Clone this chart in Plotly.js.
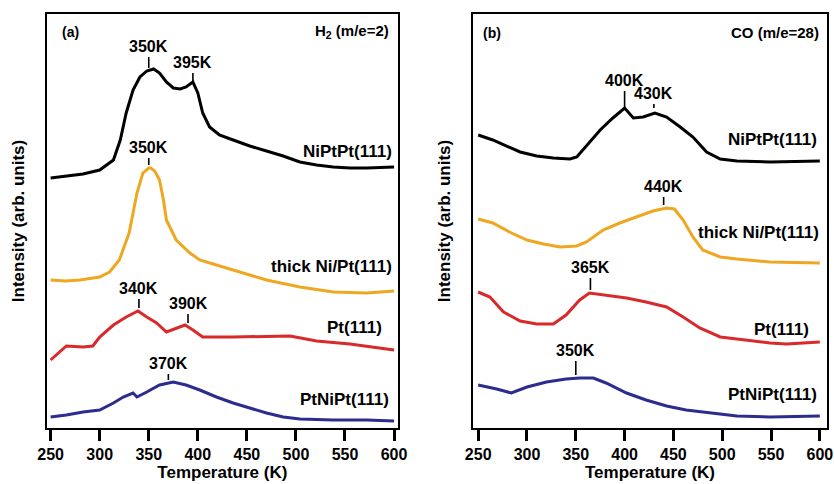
<!DOCTYPE html>
<html>
<head>
<meta charset="utf-8">
<script src="https://cdn.plot.ly/plotly-3.0.1.min.js"></script>
<style>
  html, body { margin: 0; padding: 0; background: #fff; }
  #chart { width: 834px; height: 484px; }
</style>
</head>
<body>
<div id="chart"></div>
<script>
// ---------- Panel (a): H2 (m/e=2) ----------
const aNiPtPtT = [250,266,283,300,314,321,327,334,341,348,355,361,368,375,382,388,395,400,405,412,422,436,453,470,487,504,521,538,555,572,600];
const aNiPtPtI = [250,252,254,258,268,288,315,338,351,357,359,355,346,340,339,341,346,335,315,301,293,288,282,277,272,266,263,261,260,260,261];

const aThickT = [250,265,280,300,310,320,330,335,338,344,350,352,356,361,365,368,378,392,402,419,436,470,504,538,572,600];
const aThickI = [148,147,148,151,156,168,195,218,235,255,260,260,257,248,228,208,188,175,168,163,158,148,141,136,135,137];

const aPtT = [250,256,266,283,293,300,314,327,339,348,358,368,378,387,395,405,436,470,494,521,555,600];
const aPtI = [68,73,82,81,82,91,103,111,117,111,105,96,100,103,98,91,91,92,92,87,84,78];

const aPtNiPtT = [250,266,283,300,314,324,334,338,348,361,375,388,402,419,436,453,470,487,504,538,572,600];
const aPtNiPtI = [11,13,16,18,25,31,35,31,36,43,46,43,38,31,25,20,15,11,9,8,8,7];

// ---------- Panel (b): CO (m/e=28) ----------
const bNiPtPtT = [250,265,293,310,327,344,351,361,375,388,400,409,419,431,443,457,470,484,498,515,549,600];
const bNiPtPtI = [293,288,276,272,270,269,271,282,298,310,320,310,311,315,311,301,291,276,269,267,266,267];

const bThickT = [250,265,282,300,317,334,351,361,378,395,412,429,443,451,460,470,480,498,515,549,600];
const bThickI = [209,205,196,188,184,181,182,186,198,205,211,217,220,219,208,191,178,171,169,166,165];

const bPtT = [250,262,276,293,310,327,340,354,364,381,402,422,443,460,477,498,515,549,566,600];
const bPtI = [136,131,116,107,104,104,113,128,135,133,130,126,121,111,100,91,89,85,84,86];

const bPtNiPtT = [250,269,284,300,320,340,354,368,381,402,422,443,463,487,515,549,600];
const bPtNiPtI = [43,39,35,41,46,49,50,50,45,35,28,22,18,15,12,11,12];

// series labels
const seriesNames = ["NiPtPt(111)", "thick Ni/Pt(111)", "Pt(111)", "PtNiPt(111)"];
const seriesColors = ["#000000", "#EFA722", "#D8292B", "#2C2C8E"];

// peak labels: [temperature, intensity at tick base, text offset]
const aPeaks = [[350,360,-21],[395,346,-19],[350,263,-17],[340,120,-19],[390,105,-19],[370,48,-16]];
const bPeaks = [[400,321,-26],[430,320,-14],[440,223,-18],[365,138,-22],[350,53,-24]];

// label positions for series names
const aLabelX = [600, 600, 590, 597];
const aLabelY = [276, 161, 100, 28];
const bLabelX = [599, 601, 591, 599];
const bLabelY = [288, 195, 98, 33];

const tickVals = [250,300,350,400,450,500,550,600];

const FONT = "Liberation Sans, Arial, sans-serif";

function tr(x, y, i, xa, ya) {
  return {
    x: x, y: y, xaxis: xa, yaxis: ya, type: "scatter", mode: "lines",
    name: seriesNames[i], showlegend: false,
    line: {color: seriesColors[i], width: 3}
  };
}

const data = [
  tr(aNiPtPtT, aNiPtPtI, 0, "x", "y"),
  tr(aThickT, aThickI, 1, "x", "y"),
  tr(aPtT, aPtI, 2, "x", "y"),
  tr(aPtNiPtT, aPtNiPtI, 3, "x", "y"),
  tr(bNiPtPtT, bNiPtPtI, 0, "x2", "y2"),
  tr(bThickT, bThickI, 1, "x2", "y2"),
  tr(bPtT, bPtI, 2, "x2", "y2"),
  tr(bPtNiPtT, bPtNiPtI, 3, "x2", "y2")
];

const annotations = [];
function peak(p, xr, yr) {
  annotations.push({
    x: p[0], y: p[1], xref: xr, yref: yr,
    text: "<b>" + p[0] + "K</b>",
    showarrow: true, arrowhead: 0, arrowwidth: 1.6, arrowcolor: "#000",
    ax: 0, ay: p[2], standoff: 0,
    font: {family: FONT, size: 16, color: "#000"}
  });
}
aPeaks.forEach(p => peak(p, "x", "y"));
bPeaks.forEach(p => peak(p, "x2", "y2"));

function lab(text, x, y, xr, yr, anchor, size) {
  annotations.push({
    x: x, y: y, xref: xr, yref: yr, text: text, showarrow: false,
    xanchor: anchor, yanchor: "middle",
    font: {family: FONT, size: size, color: "#000"}
  });
}
for (let i = 0; i < 4; i++) {
  lab("<b>" + seriesNames[i] + "</b>", aLabelX[i], aLabelY[i], "x", "y", "right", 17);
  lab("<b>" + seriesNames[i] + "</b>", bLabelX[i], bLabelY[i], "x2", "y2", "right", 17);
}
lab("<b>(a)</b>", 270, 396, "x", "y", "center", 14);
lab("<b>H<sub>2</sub> (m/e=2)</b>", 597, 396, "x", "y", "right", 15);
lab("<b>(b)</b>", 264, 395, "x2", "y2", "center", 14);
lab("<b>CO (m/e=28)</b>", 601, 395, "x2", "y2", "right", 15);

function xax(domain, range) {
  return {
    domain: domain, range: range, anchor: domain[0] < 0.5 ? "y" : "y2",
    showline: true, mirror: true, linecolor: "#000", linewidth: 2,
    ticks: "outside", ticklen: 11, tickwidth: 3, tickcolor: "#000",
    tickvals: tickVals, showgrid: false, zeroline: false,
    tickfont: {family: FONT, size: 16, color: "#000", weight: "bold"},
    title: {text: "<b>Temperature (K)</b>", standoff: 1,
            font: {family: FONT, size: 17, color: "#000"}},
    automargin: false
  };
}
function yax(domain, range, anchor) {
  return {
    domain: domain, range: range, anchor: anchor,
    showline: true, mirror: true, linecolor: "#000", linewidth: 2,
    ticks: "", showticklabels: false, showgrid: false, zeroline: false,
    title: {text: "<b>Intensity (arb. units)</b>", standoff: 16,
            font: {family: FONT, size: 17, color: "#000"}},
    automargin: false
  };
}

const layout = {
  width: 834, height: 484,
  margin: {l: 0, r: 0, t: 0, b: 0},
  paper_bgcolor: "#fff", plot_bgcolor: "#fff",
  showlegend: false,
  xaxis: xax([0.056, 0.4772], [246, 604]),
  yaxis: yax([0.1157, 0.9711], [0, 414], "x"),
  xaxis2: xax([0.5675, 0.9912], [245, 607]),
  yaxis2: yax([0.1157, 0.9711], [0, 414], "x2"),
  annotations: annotations
};

Plotly.newPlot("chart", data, layout, {displayModeBar: false, staticPlot: true});
</script>
</body>
</html>
